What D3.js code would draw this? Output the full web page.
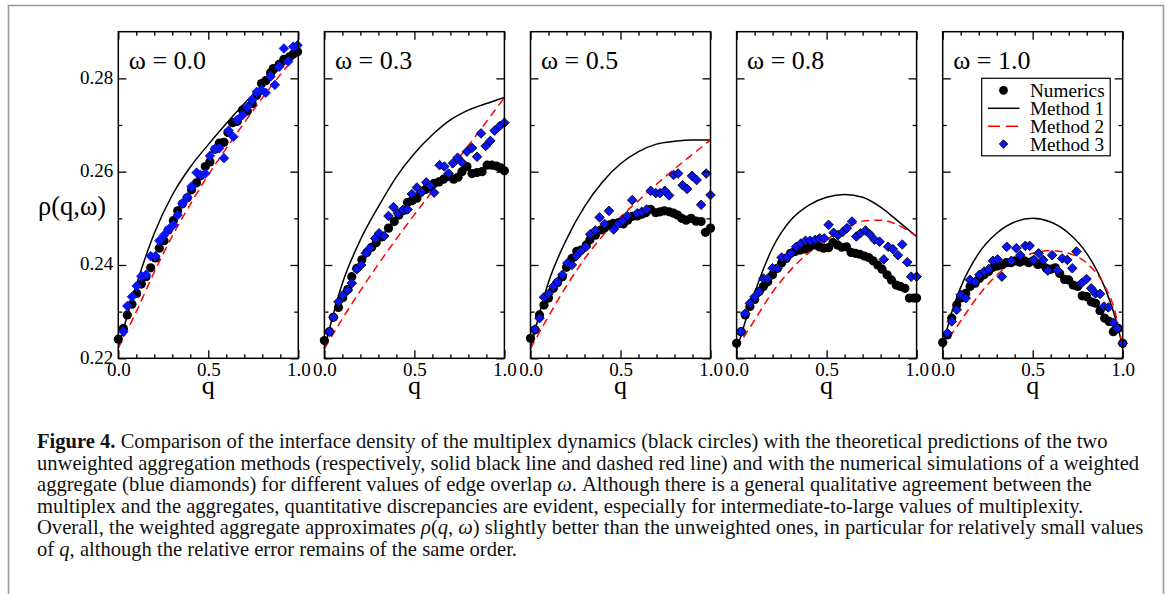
<!DOCTYPE html>
<html><head><meta charset="utf-8">
<script src="https://cdn.jsdelivr.net/npm/d3@7"></script>
<style>body{margin:0;background:#fff} svg{display:block}</style>
</head><body><svg id="c" width="1171" height="594"></svg>
<script>
// ---------------- DATA ----------------
const omegaLabels = ["ω = 0.0", "ω = 0.3", "ω = 0.5", "ω = 0.8", "ω = 1.0"];
const xTicksMajor = [0, 0.5, 1.0];
const xTicksMinor = [0.1, 0.2, 0.3, 0.4, 0.6, 0.7, 0.8, 0.9];
const yTicksMajor = [0.22, 0.24, 0.26, 0.28];
const yTicksMinor = [0.23, 0.25, 0.27];
const legendLabels = ["Numerics", "Method 1", "Method 2", "Method 3"];

// Method 1 (solid black) curves, [q, rho]
const m1_00 = [[0,0.2222],[0.1,0.2357],[0.2,0.2468],[0.3,0.2550],[0.4,0.2610],[0.5,0.2658],[0.6,0.2703],[0.7,0.2746],[0.8,0.2786],[0.9,0.2822],[1,0.2855]];
const m1_03 = [[0,0.2221],[0.1,0.2361],[0.2,0.2454],[0.3,0.2525],[0.4,0.2589],[0.5,0.2639],[0.6,0.2679],[0.7,0.2711],[0.8,0.2732],[0.9,0.2746],[1,0.2759]];
const m1_05 = [[0,0.2221],[0.1,0.2363],[0.2,0.2455],[0.3,0.2525],[0.4,0.2578],[0.5,0.2617],[0.6,0.2643],[0.7,0.2659],[0.8,0.2665],[0.9,0.2668],[1,0.2668]];
const m1_08 = [[0,0.2218],[0.1,0.2340],[0.2,0.2437],[0.3,0.2496],[0.4,0.2528],[0.5,0.2545],[0.6,0.2551],[0.7,0.2545],[0.8,0.2524],[0.9,0.2493],[1,0.2461]];
const m1_10 = [[0,0.2225],[0.05,0.2298],[0.1,0.2352],[0.2,0.2425],[0.3,0.2468],[0.4,0.2492],[0.5,0.2500],[0.6,0.2492],[0.7,0.2468],[0.8,0.2425],[0.9,0.2352],[0.95,0.2298],[1,0.2225]];

// Method 2 (dashed red) curves
const m2_00 = [[0,0.2222],[0.1,0.2300],[0.2,0.2385],[0.3,0.2462],[0.4,0.2530],[0.5,0.2593],[0.6,0.2650],[0.7,0.2705],[0.8,0.2758],[0.9,0.2808],[1,0.2855]];
const m2_03 = [[0,0.2221],[0.1,0.2285],[0.2,0.2345],[0.3,0.2402],[0.4,0.2456],[0.5,0.2508],[0.6,0.2558],[0.7,0.2607],[0.8,0.2656],[0.9,0.2707],[1,0.2759]];
const m2_05 = [[0,0.2221],[0.1,0.2290],[0.2,0.2355],[0.3,0.2413],[0.4,0.2462],[0.5,0.2503],[0.6,0.2538],[0.7,0.2573],[0.8,0.2606],[0.9,0.2637],[1,0.2668]];
const m2_08 = [[0,0.2221],[0.1,0.2282],[0.2,0.2342],[0.3,0.2389],[0.4,0.2426],[0.5,0.2454],[0.6,0.2478],[0.7,0.2494],[0.8,0.2496],[0.9,0.2485],[1,0.2461]];
const m2_10 = [[0,0.2221],[0.05,0.2252],[0.1,0.2280],[0.2,0.2335],[0.3,0.2378],[0.4,0.2408],[0.5,0.2425],[0.6,0.2431],[0.7,0.2425],[0.8,0.2404],[0.9,0.2355],[0.95,0.2310],[1,0.2225]];

// Numerics (black circles)
const num_00 = [[0,0.2241],[0.028,0.2264],[0.05,0.2293],[0.076,0.2316],[0.102,0.2339],[0.128,0.2359],[0.154,0.2375],[0.18,0.2394],[0.206,0.2415],[0.228,0.2436],[0.254,0.2452],[0.278,0.2475],[0.306,0.2495],[0.33,0.2516],[0.356,0.2531],[0.383,0.2544],[0.407,0.2561],[0.435,0.2576],[0.457,0.2591],[0.483,0.2611],[0.509,0.2621],[0.537,0.2648],[0.561,0.2661],[0.587,0.2663],[0.609,0.2684],[0.635,0.2705],[0.661,0.2708],[0.69,0.2732],[0.717,0.2730],[0.744,0.2746],[0.769,0.2764],[0.796,0.2789],[0.819,0.2795],[0.846,0.2812],[0.861,0.2821],[0.894,0.2830],[0.92,0.2841],[0.95,0.2846],[0.972,0.2852],[0.996,0.2857]];
const num_03 = [[0,0.2238],[0.028,0.2257],[0.05,0.2288],[0.078,0.2309],[0.102,0.2330],[0.13,0.2348],[0.152,0.2375],[0.18,0.2393],[0.208,0.2411],[0.236,0.2427],[0.262,0.2438],[0.288,0.2448],[0.316,0.2460],[0.356,0.2479],[0.388,0.2493],[0.414,0.2507],[0.44,0.2517],[0.462,0.2534],[0.488,0.2538],[0.514,0.2543],[0.536,0.2557],[0.562,0.2562],[0.588,0.2568],[0.61,0.2575],[0.636,0.2578],[0.662,0.2584],[0.688,0.2590],[0.718,0.2584],[0.742,0.2588],[0.764,0.2600],[0.792,0.2611],[0.82,0.2596],[0.848,0.2598],[0.876,0.2600],[0.904,0.2614],[0.93,0.2614],[0.956,0.2612],[0.98,0.2608],[1,0.2602]];
const num_05 = [[0,0.2243],[0.025,0.2261],[0.05,0.2293],[0.075,0.2314],[0.1,0.2329],[0.127,0.2350],[0.15,0.2362],[0.177,0.2375],[0.2,0.2395],[0.23,0.2414],[0.257,0.2429],[0.28,0.2432],[0.31,0.2443],[0.33,0.2454],[0.36,0.2464],[0.39,0.2475],[0.41,0.2479],[0.44,0.2486],[0.46,0.2489],[0.49,0.2491],[0.515,0.2488],[0.54,0.2496],[0.565,0.2504],[0.593,0.2505],[0.618,0.2509],[0.64,0.2512],[0.668,0.2519],[0.696,0.2512],[0.72,0.2514],[0.743,0.2516],[0.77,0.2514],[0.795,0.2511],[0.817,0.2507],[0.84,0.2500],[0.864,0.2496],[0.892,0.2500],[0.92,0.2494],[0.948,0.2493],[0.972,0.2470],[1,0.2479]];
const num_08 = [[0,0.2232],[0.025,0.2257],[0.048,0.2293],[0.074,0.2311],[0.1,0.2326],[0.125,0.2343],[0.149,0.2354],[0.173,0.2364],[0.2,0.2379],[0.227,0.2393],[0.25,0.2404],[0.275,0.2414],[0.3,0.2425],[0.325,0.2429],[0.353,0.2432],[0.38,0.2434],[0.405,0.2439],[0.433,0.2443],[0.459,0.2439],[0.483,0.2436],[0.511,0.2437],[0.535,0.2448],[0.561,0.2443],[0.585,0.2438],[0.61,0.2439],[0.636,0.2427],[0.66,0.2425],[0.684,0.2423],[0.71,0.2419],[0.734,0.2416],[0.758,0.2409],[0.784,0.2400],[0.808,0.2391],[0.836,0.2379],[0.86,0.2368],[0.887,0.2357],[0.91,0.2354],[0.935,0.2350],[0.96,0.2329],[0.985,0.2329],[1,0.2329]];
const num_10 = [[0,0.2234],[0.026,0.2250],[0.05,0.2286],[0.078,0.2314],[0.1,0.2329],[0.128,0.2339],[0.152,0.2354],[0.18,0.2361],[0.204,0.2371],[0.23,0.2379],[0.255,0.2386],[0.279,0.2395],[0.305,0.2398],[0.329,0.2400],[0.353,0.2405],[0.379,0.2405],[0.403,0.2409],[0.428,0.2406],[0.454,0.2409],[0.478,0.2405],[0.502,0.2409],[0.528,0.2401],[0.552,0.2402],[0.576,0.2393],[0.602,0.2391],[0.626,0.2394],[0.65,0.2382],[0.677,0.2369],[0.7,0.2368],[0.725,0.2357],[0.75,0.2354],[0.775,0.2334],[0.8,0.2332],[0.825,0.2321],[0.849,0.2318],[0.874,0.2302],[0.9,0.2286],[0.924,0.2279],[0.948,0.2257],[0.974,0.2264],[1,0.2232]];

// Method 3 (blue diamonds)
const m3_00 = [[0.028,0.2257],[0.05,0.2312],[0.076,0.2332],[0.102,0.2355],[0.128,0.2376],[0.154,0.2379],[0.18,0.2419],[0.206,0.2419],[0.228,0.2452],[0.254,0.2464],[0.278,0.2476],[0.306,0.2486],[0.33,0.2507],[0.356,0.2532],[0.383,0.2545],[0.407,0.2568],[0.435,0.2598],[0.457,0.2593],[0.483,0.2596],[0.509,0.2634],[0.537,0.2649],[0.561,0.2650],[0.587,0.2629],[0.613,0.2688],[0.639,0.2675],[0.661,0.2711],[0.69,0.2721],[0.717,0.2739],[0.744,0.2754],[0.769,0.2771],[0.796,0.2775],[0.819,0.2769],[0.846,0.2804],[0.87,0.2786],[0.894,0.2825],[0.92,0.2864],[0.944,0.2836],[0.972,0.2868],[0.996,0.2871]];
const m3_03 = [[0.028,0.2257],[0.05,0.2288],[0.078,0.2321],[0.102,0.2335],[0.13,0.2346],[0.152,0.2361],[0.18,0.2391],[0.204,0.2400],[0.23,0.2425],[0.254,0.2436],[0.282,0.2457],[0.304,0.2468],[0.332,0.2462],[0.356,0.2505],[0.384,0.2524],[0.408,0.2511],[0.436,0.2518],[0.462,0.2519],[0.486,0.2552],[0.514,0.2566],[0.54,0.2556],[0.566,0.2577],[0.588,0.2570],[0.61,0.2555],[0.64,0.2614],[0.666,0.2611],[0.69,0.2596],[0.714,0.2618],[0.74,0.2630],[0.764,0.2620],[0.792,0.2643],[0.82,0.2651],[0.848,0.2632],[0.87,0.2682],[0.896,0.2655],[0.922,0.2666],[0.946,0.2688],[0.974,0.2698],[1,0.2705]];
const m3_05 = [[0.025,0.2262],[0.05,0.2286],[0.075,0.2331],[0.1,0.2338],[0.127,0.2354],[0.15,0.2364],[0.177,0.2379],[0.205,0.2404],[0.23,0.2400],[0.254,0.2419],[0.28,0.2430],[0.308,0.2439],[0.332,0.2466],[0.36,0.2474],[0.384,0.2502],[0.412,0.2488],[0.436,0.2516],[0.462,0.2476],[0.487,0.2488],[0.512,0.2495],[0.537,0.2505],[0.565,0.2539],[0.593,0.2511],[0.618,0.2514],[0.645,0.2519],[0.668,0.2559],[0.696,0.2554],[0.72,0.2554],[0.746,0.2559],[0.77,0.2549],[0.795,0.2593],[0.82,0.2596],[0.845,0.2571],[0.87,0.2563],[0.897,0.2591],[0.923,0.2582],[0.948,0.2529],[0.976,0.2596],[1,0.2550]];
const m3_08 = [[0.025,0.2257],[0.048,0.2296],[0.074,0.2318],[0.1,0.2332],[0.125,0.2343],[0.149,0.2371],[0.173,0.2371],[0.2,0.2393],[0.227,0.2393],[0.25,0.2416],[0.279,0.2416],[0.303,0.2425],[0.331,0.2439],[0.357,0.2446],[0.383,0.2452],[0.409,0.2452],[0.437,0.2454],[0.461,0.2457],[0.487,0.2457],[0.511,0.2486],[0.539,0.2469],[0.563,0.2464],[0.59,0.2471],[0.613,0.2479],[0.641,0.2493],[0.665,0.2461],[0.688,0.2468],[0.716,0.2474],[0.74,0.2466],[0.766,0.2454],[0.794,0.2450],[0.818,0.2412],[0.842,0.2439],[0.868,0.2434],[0.896,0.2421],[0.92,0.2444],[0.948,0.2406],[0.97,0.2375],[1,0.2375]];
const m3_10 = [[0.026,0.2254],[0.05,0.2279],[0.078,0.2304],[0.1,0.2336],[0.128,0.2329],[0.152,0.2368],[0.18,0.2364],[0.204,0.2379],[0.23,0.2386],[0.255,0.2391],[0.279,0.2409],[0.305,0.2412],[0.329,0.2375],[0.356,0.2439],[0.381,0.2409],[0.409,0.2436],[0.431,0.2421],[0.459,0.2441],[0.483,0.2441],[0.506,0.2411],[0.533,0.2425],[0.558,0.2411],[0.584,0.2388],[0.608,0.2421],[0.636,0.2389],[0.664,0.2414],[0.692,0.2411],[0.72,0.2393],[0.743,0.2429],[0.771,0.2361],[0.799,0.2370],[0.825,0.2350],[0.849,0.2339],[0.874,0.2338],[0.896,0.2311],[0.92,0.2309],[0.948,0.2276],[0.97,0.2264],[1,0.2232]];

const method1Sets = [m1_00, m1_03, m1_05, m1_08, m1_10];
const method2Sets = [m2_00, m2_03, m2_05, m2_08, m2_10];
const numericsSets = [num_00, num_03, num_05, num_08, num_10];
const method3Sets = [m3_00, m3_03, m3_05, m3_08, m3_10];

// ---------------- LAYOUT ----------------
const svg = d3.select("#c");
const serif = "'Liberation Serif','Times New Roman',serif";
const panelLeft0 = 118.3, panelStep = 206.1, pw = 180;
const pTop = 31.7, pBottom = 358.3;

// outer frame
svg.append("rect").attr("x", 8.5).attr("y", 5.5).attr("width", 1155).attr("height", 620)
  .attr("fill", "none").attr("stroke", "#9a9a9a").attr("stroke-width", 1.6);

const y = d3.scaleLinear().domain([0.22, 0.29]).range([pBottom, pTop]);
const diamond = d3.symbol().type(d3.symbolSquare).size(46);

omegaLabels.forEach((lab, i) => {
  const x0 = panelLeft0 + i * panelStep;
  const x = d3.scaleLinear().domain([0, 1]).range([x0, x0 + pw]);
  const g = svg.append("g");

  const line = d3.line().x(d => x(d[0])).y(d => y(d[1])).curve(d3.curveMonotoneX);
  g.append("path").datum(method1Sets[i]).attr("d", line)
    .attr("fill", "none").attr("stroke", "#000").attr("stroke-width", 1.5);
  g.append("path").datum(method2Sets[i]).attr("d", line)
    .attr("fill", "none").attr("stroke", "#ff0000").attr("stroke-width", 1.5)
    .attr("stroke-dasharray", "8,5");

  g.selectAll("circle.n").data(numericsSets[i]).join("circle").attr("class", "n")
    .attr("cx", d => x(d[0])).attr("cy", d => y(d[1])).attr("r", 4.6)
    .attr("fill", "#000");

  g.selectAll("path.m3").data(method3Sets[i]).join("path").attr("class", "m3")
    .attr("d", diamond)
    .attr("transform", d => `translate(${x(d[0])},${y(d[1])}) rotate(45)`)
    .attr("fill", "#0a14f5")
    .attr("stroke", i === 0 ? "#0a14f5" : "#000").attr("stroke-width", 0.8);

  // axes (inward ticks)
  const fmtX = d3.format(".1f");
  const ax = (axis, tr) => {
    const a = g.append("g").attr("transform", tr).call(axis);
    a.select(".domain").remove();
    a.selectAll("line").attr("stroke", "#000").attr("stroke-width", 1.3);
    a.selectAll("text").attr("font-family", serif).attr("font-size", 19).attr("fill", "#000");
    return a;
  };
  ax(d3.axisBottom(x).tickValues(xTicksMajor).tickSize(-8).tickPadding(4).tickFormat(fmtX), `translate(0,${pBottom})`);
  ax(d3.axisBottom(x).tickValues(xTicksMinor).tickSize(-4).tickFormat(""), `translate(0,${pBottom})`);
  ax(d3.axisTop(x).tickValues(xTicksMajor).tickSize(-8).tickFormat(""), `translate(0,${pTop})`);
  ax(d3.axisTop(x).tickValues(xTicksMinor).tickSize(-4).tickFormat(""), `translate(0,${pTop})`);
  const yl = ax(d3.axisLeft(y).tickValues(yTicksMajor).tickSize(-8).tickPadding(5)
      .tickFormat(i === 0 ? d3.format(".2f") : ""), `translate(${x0},0)`);
  yl.selectAll("text").attr("dy", "0.26em");
  ax(d3.axisLeft(y).tickValues(yTicksMinor).tickSize(-4).tickFormat(""), `translate(${x0},0)`);
  ax(d3.axisRight(y).tickValues(yTicksMajor).tickSize(-8).tickFormat(""), `translate(${x0 + pw},0)`);
  ax(d3.axisRight(y).tickValues(yTicksMinor).tickSize(-4).tickFormat(""), `translate(${x0 + pw},0)`);

  g.append("rect").attr("x", x0).attr("y", pTop).attr("width", pw).attr("height", pBottom - pTop)
    .attr("fill", "none").attr("stroke", "#000").attr("stroke-width", 1.5);

  g.append("text").attr("x", x0 + 10.5).attr("y", 69).attr("font-family", serif)
    .attr("font-size", 26).text(lab);

  g.append("text").attr("x", x0 + pw / 2).attr("y", 394).attr("text-anchor", "middle")
    .attr("font-family", serif).attr("font-size", 26).text("q");

  if (i === 4) {
    const lx = 981.7, ly = 78.3, lw = 128.5, lh = 77.5;
    const lg = svg.append("g");
    lg.append("rect").attr("x", lx).attr("y", ly).attr("width", lw).attr("height", lh)
      .attr("fill", "#fff").attr("stroke", "#000").attr("stroke-width", 1.2);
    const rows = [90.3, 108.3, 126.3, 144.0];
    legendLabels.forEach((t, k) => {
      lg.append("text").attr("x", 1030).attr("y", rows[k]).attr("dy", "0.35em")
        .attr("font-family", serif).attr("font-size", 19.2).text(t);
    });
    lg.append("circle").attr("cx", 1003.5).attr("cy", rows[0]).attr("r", 4.4).attr("fill", "#000");
    lg.append("line").attr("x1", 988).attr("x2", 1019.5).attr("y1", rows[1]).attr("y2", rows[1])
      .attr("stroke", "#000").attr("stroke-width", 1.5);
    lg.append("line").attr("x1", 988).attr("x2", 1019.5).attr("y1", rows[2]).attr("y2", rows[2])
      .attr("stroke", "#ff0000").attr("stroke-width", 1.5).attr("stroke-dasharray", "12,6");
    lg.append("path").attr("d", d3.symbol().type(d3.symbolSquare).size(36))
      .attr("transform", `translate(1003.5,${rows[3]}) rotate(45)`)
      .attr("fill", "#0a14f5").attr("stroke", "#000").attr("stroke-width", 0.8);
  }
});

// y-axis title
svg.append("text").attr("x", 38).attr("y", 215).attr("font-family", serif)
  .attr("font-size", 26.5).text("ρ(q,ω)");

// ---------------- CAPTION ----------------
const capLines = [
  [["Figure 4.", "b"], [" Comparison of the interface density of the multiplex dynamics (black circles) with the theoretical predictions of the two", ""]],
  [["unweighted aggregation methods (respectively, solid black line and dashed red line) and with the numerical simulations of a weighted", ""]],
  [["aggregate (blue diamonds) for different values of edge overlap ", ""], ["ω", "i"], [". Although there is a general qualitative agreement between the", ""]],
  [["multiplex and the aggregates, quantitative discrepancies are evident, especially for intermediate-to-large values of multiplexity.", ""]],
  [["Overall, the weighted aggregate approximates ", ""], ["ρ", "i"], ["(", ""], ["q", "i"], [", ", ""], ["ω", "i"], [") slightly better than the unweighted ones, in particular for relatively small values", ""]],
  [["of ", ""], ["q", "i"], [", although the relative error remains of the same order.", ""]]
];
const cap = svg.append("g");
const capX = 37, capY0 = 448, capDY = 21.6;
const texts = capLines.map((parts, k) => {
  const t = cap.append("text").attr("x", capX).attr("y", capY0 + k * capDY)
    .attr("font-family", serif).attr("font-size", 18).attr("fill", "#111");
  parts.forEach(([s, st]) => {
    const sp = t.append("tspan").text(s);
    if (st === "b") sp.attr("font-weight", "bold");
    if (st === "i") sp.attr("font-style", "italic");
  });
  return t;
});
const w2 = texts[1].node().getComputedTextLength();
const fs = 18 * 1103 / w2;
texts.forEach(t => t.attr("font-size", fs));
</script></body></html>
